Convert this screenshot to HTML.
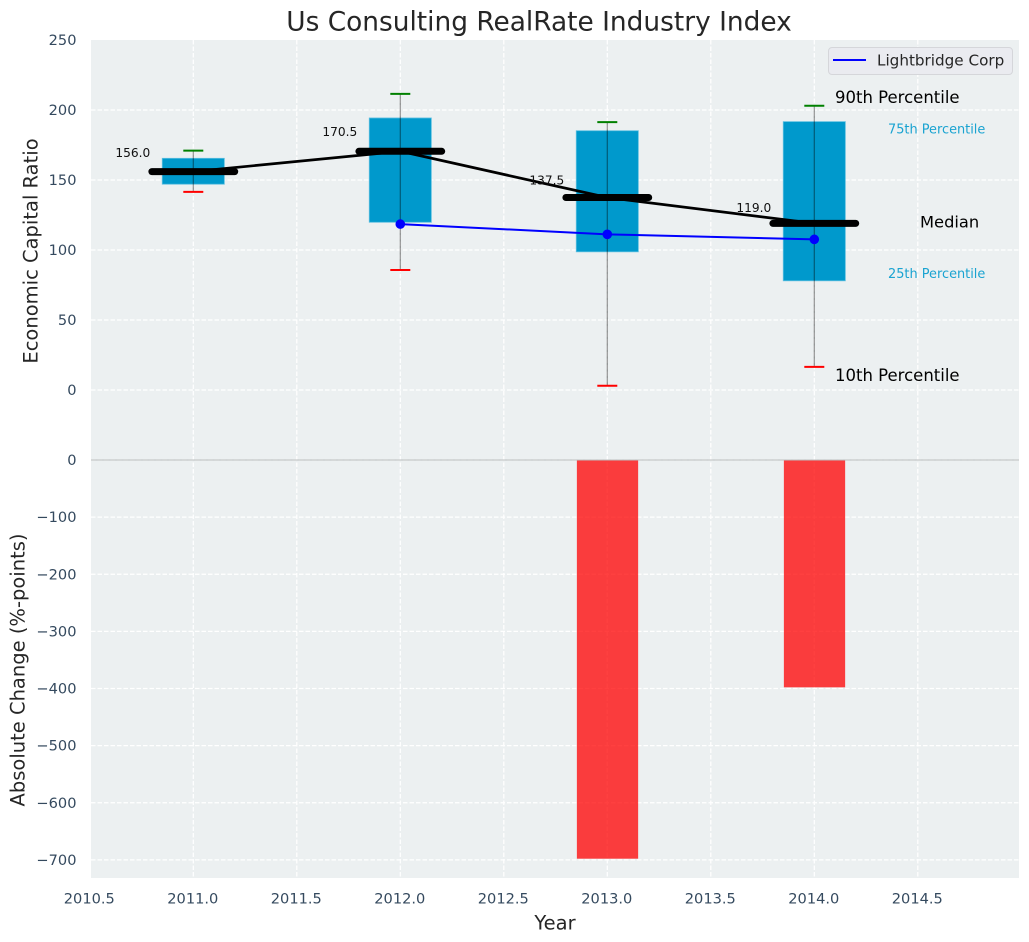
<!DOCTYPE html>
<html>
<head>
<meta charset="utf-8">
<title>Us Consulting RealRate Industry Index</title>
<style>
html,body{margin:0;padding:0;background:#fff;}
svg{display:block;font-family:"DejaVu Sans","Liberation Sans",sans-serif;}
</style>
</head>
<body>
<svg id="chart" xmlns="http://www.w3.org/2000/svg" width="1029" height="942" viewBox="0 0 1029 942"></svg>
<script>
const years = [2011, 2012, 2013, 2014];
const p90 = [171, 211.5, 191.3, 203];
const q3 = [165.5, 194.3, 185.2, 191.7];
const medians = [156, 170.5, 137.5, 119];
const q1 = [147, 119.8, 98.7, 78];
const p10 = [141.5, 85.7, 3, 16.5];
const companyYears = [2012, 2013, 2014];
const companyValues = [118.5, 111.2, 107.6];
const changeYears = [2013, 2014];
const changeValues = [-698, -398];
const xTickLabels = ['2010.5', '2011.0', '2011.5', '2012.0', '2012.5', '2013.0', '2013.5', '2014.0', '2014.5'];
const upperTickLabels = ['0', '50', '100', '150', '200', '250'];
const lowerTickLabels = ['0', '-100', '-200', '-300', '-400', '-500', '-600', '-700'];

const NS = 'http://www.w3.org/2000/svg';
const svg = document.getElementById('chart');
const left = 91, right = 1019, top0 = 40, mid = 460, bottom = 878;
function xAxis(v) { return 193.3 + (v - 2011) * 207; }
function yUpper(v) { return 390 - v * 1.4; }
function yLower(v) { return 460 - v * 0.5712; }
function mk(tag, attrs, text) {
  const el = document.createElementNS(NS, tag);
  for (const k in attrs) el.setAttribute(k, attrs[k]);
  if (text !== undefined) el.textContent = text;
  svg.appendChild(el);
  return el;
}
function num(s) { return parseFloat(s); }
const tickColor = '#34495e', labelColor = '#262626';
const gridAttrs = { stroke: '#ffffff', 'stroke-width': 1.2, 'stroke-dasharray': '4.5 2' };
const txtBase = { 'dominant-baseline': 'central' };
let el;

el = mk('rect', { x: left, y: top0, width: right - left, height: mid - top0, fill: '#ecf0f1' });


el = mk('rect', { x: left, y: mid, width: right - left, height: bottom - mid, fill: '#ecf0f1' });



xTickLabels.forEach(function (t) {
  const x = xAxis(num(t));
  if (x > left) {
    el = mk('line', Object.assign({ x1: x, x2: x, y1: top0, y2: bottom }, gridAttrs));
    
    
  }
  el = mk('text', Object.assign({ x: x - 0.5, y: 899, 'text-anchor': 'middle', 'font-size': 14.6, fill: tickColor }, txtBase), t);
  
  
});

upperTickLabels.forEach(function (t) {
  const y = yUpper(num(t));
  if (y > top0) {
    el = mk('line', Object.assign({ x1: left, x2: right, y1: y, y2: y }, gridAttrs));
    
    
  }
  el = mk('text', Object.assign({ x: 76.5, y: y + 0.6, 'text-anchor': 'end', 'font-size': 14.6, fill: tickColor }, txtBase), t);
  
  
});

lowerTickLabels.forEach(function (t) {
  const y = yLower(num(t));
  el = mk('line', Object.assign({ x1: left, x2: right, y1: y, y2: y }, gridAttrs));
  
  
  el = mk('text', Object.assign({ x: 76.5, y: y + 0.6, 'text-anchor': 'end', 'font-size': 14.6, fill: tickColor }, txtBase), t.replace('-', '\u2212'));
  
  
});

changeValues.forEach(function (v, i) {
  const x0 = xAxis(changeYears[i] - 0.147), x1 = xAxis(changeYears[i] + 0.149);
  const y0 = yLower(0), y1 = yLower(v);
  el = mk('rect', { x: x0, y: y0, width: x1 - x0, height: y1 - y0, fill: '#ff0000', 'fill-opacity': 0.75 });
  
  
});

el = mk('line', { x1: left, x2: right, y1: 460, y2: 460, stroke: '#b9bcbd', 'stroke-width': 1 });



years.forEach(function (yr, i) {
  const x0 = xAxis(yr - 0.15), x1 = xAxis(yr + 0.15);
  const y0 = yUpper(q3[i]), y1 = yUpper(q1[i]);
  el = mk('rect', { x: x0, y: y0, width: x1 - x0, height: y1 - y0, fill: '#0099cc', stroke: '#5cbfe0', 'stroke-width': 0.8 });
  
  
});

el = mk('polyline', {
  points: years.map(function (yr, i) { return xAxis(yr) + ',' + yUpper(medians[i]); }).join(' '),
  fill: 'none', stroke: '#000000', 'stroke-width': 2.7
});



years.forEach(function (yr, i) {
  const x = xAxis(yr);
  el = mk('line', { x1: x, x2: x, y1: yUpper(p90[i]), y2: yUpper(p10[i]), stroke: '#000000', 'stroke-opacity': 0.42, 'stroke-width': 1.2 });
  
  
  el = mk('line', { x1: x - 10, x2: x + 10, y1: yUpper(p90[i]), y2: yUpper(p90[i]), stroke: '#008000', 'stroke-width': 2 });
  
  
  el = mk('line', { x1: x - 10, x2: x + 10, y1: yUpper(p10[i]), y2: yUpper(p10[i]), stroke: '#ff0000', 'stroke-width': 2 });
  
  
  el = mk('line', { x1: xAxis(yr - 0.2), x2: xAxis(yr + 0.2), y1: yUpper(medians[i]), y2: yUpper(medians[i]), stroke: '#000000', 'stroke-width': 7, 'stroke-linecap': 'round' });
  
  
  el = mk('text', Object.assign({ x: xAxis(yr - 0.208), y: yUpper(medians[i] * 1.054 + 4.7), 'text-anchor': 'end', 'font-size': 12.2, fill: '#111111' }, txtBase), medians[i].toFixed(1));
  
  
});

el = mk('polyline', {
  points: companyYears.map(function (yr, i) { return xAxis(yr) + ',' + yUpper(companyValues[i]); }).join(' '),
  fill: 'none', stroke: '#0000ff', 'stroke-width': 2
});


companyYears.forEach(function (yr, i) {
  el = mk('circle', { cx: xAxis(yr), cy: yUpper(companyValues[i]), r: 4.8, fill: '#0000ff' });
  
  
});

const last = years.length - 1;
el = mk('text', Object.assign({ x: 835, y: yUpper(p90[last] + 6), 'font-size': 16.5, fill: '#000000' }, txtBase), '90th Percentile');


el = mk('text', Object.assign({ x: 888, y: yUpper(q3[last] - 6), 'font-size': 12.9, fill: '#1aa3d1' }, txtBase), '75th Percentile');


el = mk('text', Object.assign({ x: 920, y: yUpper(medians[last] + 1), 'font-size': 16.3, fill: '#000000' }, txtBase), 'Median');


el = mk('text', Object.assign({ x: 888, y: yUpper(q1[last] + 4.4), 'font-size': 12.9, fill: '#1aa3d1' }, txtBase), '25th Percentile');


el = mk('text', Object.assign({ x: 835, y: yUpper(p10[last] - 6), 'font-size': 16.5, fill: '#000000' }, txtBase), '10th Percentile');



el = mk('rect', { x: 828.5, y: 47.5, width: 184, height: 27, rx: 3.5, fill: '#eaebf0', stroke: '#d5d6da', 'stroke-width': 1 });


el = mk('line', { x1: 833, x2: 866, y1: 60, y2: 60, stroke: '#0000ff', 'stroke-width': 2 });


el = mk('text', Object.assign({ x: 877, y: 60.5, 'font-size': 15.2, fill: labelColor }, txtBase), 'Lightbridge Corp');



el = mk('text', Object.assign({ x: 539, y: 22, 'text-anchor': 'middle', 'font-size': 26.4, fill: labelColor }, txtBase), 'Us Consulting RealRate Industry Index');


el = mk('text', Object.assign({ x: 555, y: 923, 'text-anchor': 'middle', 'font-size': 19.5, fill: labelColor }, txtBase), 'Year');


el = mk('text', Object.assign({ x: 0, y: 0, 'text-anchor': 'middle', 'font-size': 19.5, fill: labelColor, transform: 'translate(31 251) rotate(-90)' }, txtBase), 'Economic Capital Ratio');


el = mk('text', Object.assign({ x: 0, y: 0, 'text-anchor': 'middle', 'font-size': 19.5, fill: labelColor, transform: 'translate(18 670) rotate(-90)' }, txtBase), 'Absolute Change (%-points)');


</script>
</body>
</html>
